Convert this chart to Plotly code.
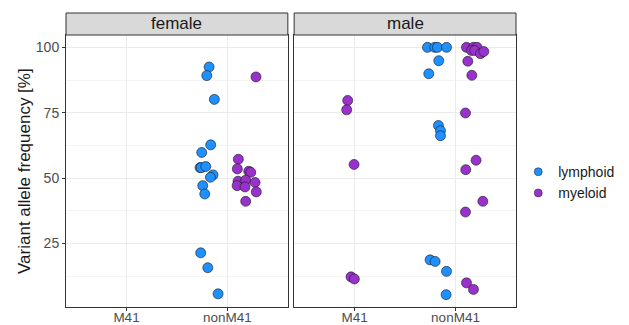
import plotly.graph_objects as go

# ---- data ----
categories = ["M41", "nonM41"]
panels = ["female", "male"]
cell_types = ["lymphoid", "myeloid"]
colors = {"lymphoid": "#1E90FF", "myeloid": "#9932CC"}

female_lymphoid_cat = ["nonM41"] * 15
female_lymphoid_vaf = [92.5, 89.2, 80.1, 62.7, 59.8, 54.0, 54.0, 54.4, 51.2, 50.3, 47.1, 43.9, 21.4, 15.7, 5.7]
female_lymphoid_jit = [0.019, -0.004, 0.071, 0.035, -0.054, -0.071, -0.058, -0.014, 0.058, 0.032, -0.044, -0.024, -0.064, 0.006, 0.108]

female_myeloid_cat = ["nonM41"] * 12
female_myeloid_vaf = [88.7, 57.2, 53.5, 52.6, 52.2, 48.8, 49.2, 47.1, 46.6, 48.3, 44.7, 41.1]
female_myeloid_jit = [0.084, -0.091, -0.101, 0.012, 0.032, -0.094, -0.018, -0.103, -0.025, 0.075, 0.087, -0.018]

male_lymphoid_cat = ["nonM41"] * 13
male_lymphoid_vaf = [100, 100, 100, 100, 94.9, 89.9, 70.1, 68.1, 66.2, 18.7, 18.1, 14.3, 5.4]
male_lymphoid_jit = [-0.078, -0.005, 0.021, 0.111, 0.034, -0.065, 0.031, 0.051, 0.051, -0.052, -0.002, 0.111, 0.107]

male_myeloid_cat = ["M41"] * 5 + ["nonM41"] * 16
male_myeloid_vaf = [79.7, 76.1, 55.2, 12.2, 11.4,
                    100, 100, 100, 98.8, 98.8, 97.6, 98.4, 94.7, 89.3, 74.9, 56.8, 53.2, 41.1, 37.0, 9.9, 7.4]
male_myeloid_jit = [-0.069, -0.079, -0.006, -0.036, -0.003,
                    -0.091, -0.022, 0.014, -0.041, -0.009, 0.048, 0.081, -0.078, -0.038, -0.101, 0.004, -0.098, 0.071, -0.101, -0.091, -0.022]

y_ticks = [25, 50, 75, 100]
y_minor = [12.5, 37.5, 62.5, 87.5]
y_title = "Variant allele frequency [%]"

series = {
    ("female", "lymphoid"): (female_lymphoid_cat, female_lymphoid_vaf, female_lymphoid_jit),
    ("female", "myeloid"): (female_myeloid_cat, female_myeloid_vaf, female_myeloid_jit),
    ("male", "lymphoid"): (male_lymphoid_cat, male_lymphoid_vaf, male_lymphoid_jit),
    ("male", "myeloid"): (male_myeloid_cat, male_myeloid_vaf, male_myeloid_jit),
}

# ---- layout geometry ----
W, H = 629, 325
ml, mr, mt, mb = 66, 113, 13, 18
plot_w = W - ml - mr
plot_h = H - mt - mb
strip_h = 22
panel_top = 1 - strip_h / plot_h
gap = 6.3 / plot_w
dom = [[0, 0.5 - gap / 2], [0.5 + gap / 2, 1]]
FONT = "Liberation Sans, Arial, sans-serif"

dodge = 0.2
fig = go.Figure()

for pi, panel in enumerate(panels):
    xa = "x" if pi == 0 else "x2"
    ya = "y" if pi == 0 else "y2"
    present = {}
    for ct in cell_types:
        for c in series[(panel, ct)][0]:
            present.setdefault(c, set()).add(ct)
    for ct in cell_types:
        cats, vals, jit = series[(panel, ct)]
        xs = []
        for c, j in zip(cats, jit):
            base = categories.index(c) + 1
            off = 0.0
            if len(present[c]) > 1:
                off = -dodge if ct == "lymphoid" else dodge
            xs.append(base + off + j)
        fig.add_trace(go.Scatter(
            x=xs, y=vals, mode="markers", name=ct,
            legendgroup=ct, showlegend=False,
            xaxis=xa, yaxis=ya,
            marker=dict(size=10, color=colors[ct], line=dict(color="#1a1a1a", width=0.6)),
        ))

# legend entries (smaller keys like ggplot)
for ct in cell_types:
    fig.add_trace(go.Scatter(
        x=[None], y=[None], mode="markers", name=ct, legendgroup=ct, showlegend=True,
        xaxis="x", yaxis="y",
        marker=dict(size=8, color=colors[ct], line=dict(color="#1a1a1a", width=0.5)),
    ))

tick_font = dict(family=FONT, size=14, color="#4D4D4D")
xtick_font = dict(family=FONT, size=13.5, color="#4D4D4D")
axis_common = dict(
    showline=True, mirror=True, linecolor="#333333", linewidth=1,
    gridcolor="#EBEBEB", gridwidth=1, zeroline=False, automargin=False,
)

ydict = dict(domain=[0, panel_top], range=[0.67, 104.73], tickvals=y_ticks,
             minor=dict(tickvals=y_minor, showgrid=True, gridcolor="#F4F4F4", gridwidth=0.5),
             **axis_common)
xdict = dict(range=[0.4, 2.6], tickvals=[1, 2], ticktext=categories,
             ticks="outside", ticklen=3, tickcolor="#333333", tickfont=xtick_font,
             ticklabelstandoff=-5, **axis_common)

fig.update_layout(
    width=W, height=H,
    margin=dict(l=ml, r=mr, t=mt, b=mb, autoexpand=False),
    paper_bgcolor="white", plot_bgcolor="white",
    font=dict(family=FONT, color="#1A1A1A"),
    xaxis=dict(domain=dom[0], anchor="y", **xdict),
    xaxis2=dict(domain=dom[1], anchor="y2", **xdict),
    yaxis=dict(anchor="x", ticks="outside", ticklen=3, tickcolor="#333333", tickfont=tick_font, **ydict),
    yaxis2=dict(anchor="x2", matches="y", showticklabels=False, ticks="", **ydict),
    legend=dict(x=1.005, xanchor="left", y=0.423, yanchor="middle", bgcolor="rgba(0,0,0,0)",
                font=dict(family=FONT, size=14, color="#1A1A1A"), tracegroupgap=0),
    showlegend=True,
)

# y axis title
fig.add_annotation(text=y_title, xref="paper", yref="paper",
                   x=(25 - ml) / plot_w, y=panel_top / 2, textangle=-90,
                   showarrow=False, font=dict(family=FONT, size=17, color="#1A1A1A"),
                   xanchor="center", yanchor="middle")

# strips
for pi, panel in enumerate(panels):
    fig.add_shape(type="rect", xref="paper", yref="paper",
                  x0=dom[pi][0], x1=dom[pi][1], y0=panel_top, y1=1,
                  fillcolor="#D9D9D9", line=dict(color="#333333", width=1), layer="above")
    fig.add_annotation(text=panel, xref="paper", yref="paper",
                       x=(dom[pi][0] + dom[pi][1]) / 2, y=(panel_top + 1) / 2,
                       showarrow=False, font=dict(family=FONT, size=17, color="#1A1A1A"),
                       xanchor="center", yanchor="middle")

fig.write_html("out.html", config={"displayModeBar": False},
               post_script="document.body.style.margin='0';")
